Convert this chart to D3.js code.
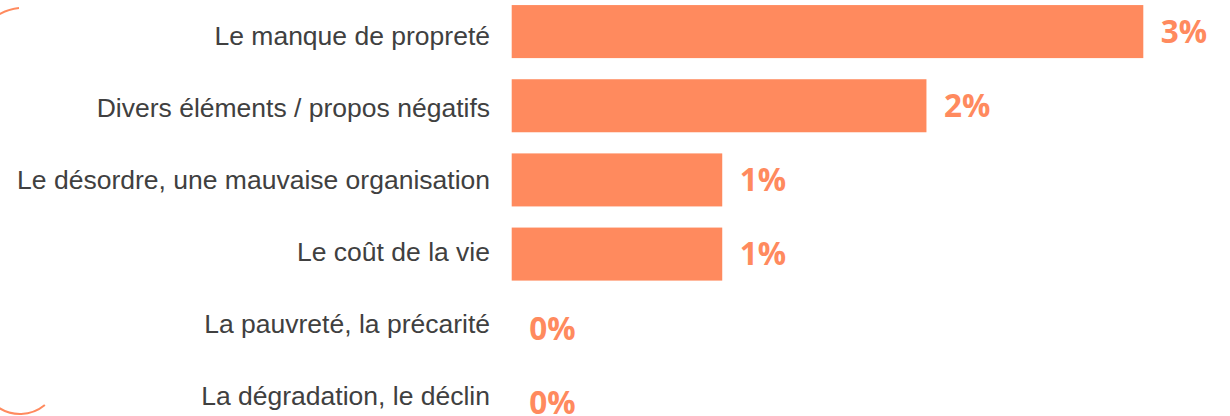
<!doctype html>
<html lang="fr">
<head>
<meta charset="utf-8">
<title>Points négatifs</title>
<script src="https://cdn.jsdelivr.net/npm/d3@7"></script>
<style>
  html, body { margin: 0; padding: 0; background: #fff; }
  svg { display: block; }
  .label { font-family: "Liberation Sans", Arial, sans-serif; font-size: 26.5px; fill: #404040; }
  .value { font-family: "Open Sans", sans-serif; font-weight: 700; font-size: 31.5px; fill: #FF8A5E; }
</style>
</head>
<body>
<div id="chart"></div>
<script>
// data
var categories = [
  "Le manque de propreté",
  "Divers éléments / propos négatifs",
  "Le désordre, une mauvaise organisation",
  "Le coût de la vie",
  "La pauvreté, la précarité",
  "La dégradation, le déclin"
];
var values = [3.0, 1.97, 1.0, 1.0, 0, 0];

var width = 1230, height = 416;
var barColor = "#FF8A5E";

var svg = d3.select("#chart").append("svg")
  .attr("width", width)
  .attr("height", height);

var x = d3.scaleLinear().domain([0, 3]).range([511.7, 1143.3]);
var y = d3.scaleBand().domain(categories)
  .range([-5.5, 439.5])
  .paddingInner(0.285)
  .paddingOuter(0.1425);
// the text labels sit on a slightly tighter grid than the bars
var yLabel = d3.scalePoint().domain(categories).range([35.5, 395.5]);

// decorative arcs on the left edge
var deco = svg.append("g").attr("fill", "none").attr("stroke", barColor).attr("stroke-width", 2);
deco.append("path").attr("d", "M-2,15 Q8,9 19,8");
deco.append("path")
  .attr("transform", "translate(20,375)")
  .attr("d", d3.arc()({innerRadius: 39, outerRadius: 39, startAngle: Math.PI * 0.78, endAngle: Math.PI * 1.2}));

svg.selectAll("rect.bar")
  .data(values)
  .join("rect")
  .attr("class", "bar")
  .attr("x", x(0))
  .attr("y", function(d, i) { return y(categories[i]); })
  .attr("width", function(d) { return x(d) - x(0); })
  .attr("height", y.bandwidth())
  .attr("fill", barColor);

svg.selectAll("text.label")
  .data(categories)
  .join("text")
  .attr("class", "label")
  .attr("x", 490)
  .attr("y", function(d) { return yLabel(d); })
  .attr("dy", "0.36em")
  .attr("text-anchor", "end")
  .text(function(d) { return d; });

svg.selectAll("text.value")
  .data(values)
  .join("text")
  .attr("class", "value")
  .attr("x", function(d) { return x(d) + 17.5; })
  .attr("y", function(d, i) { return y(categories[i]) + y.bandwidth() / 2; })
  .attr("dy", "0.36em")
  .text(function(d) { return Math.round(d) + "%"; });
</script>
</body>
</html>
